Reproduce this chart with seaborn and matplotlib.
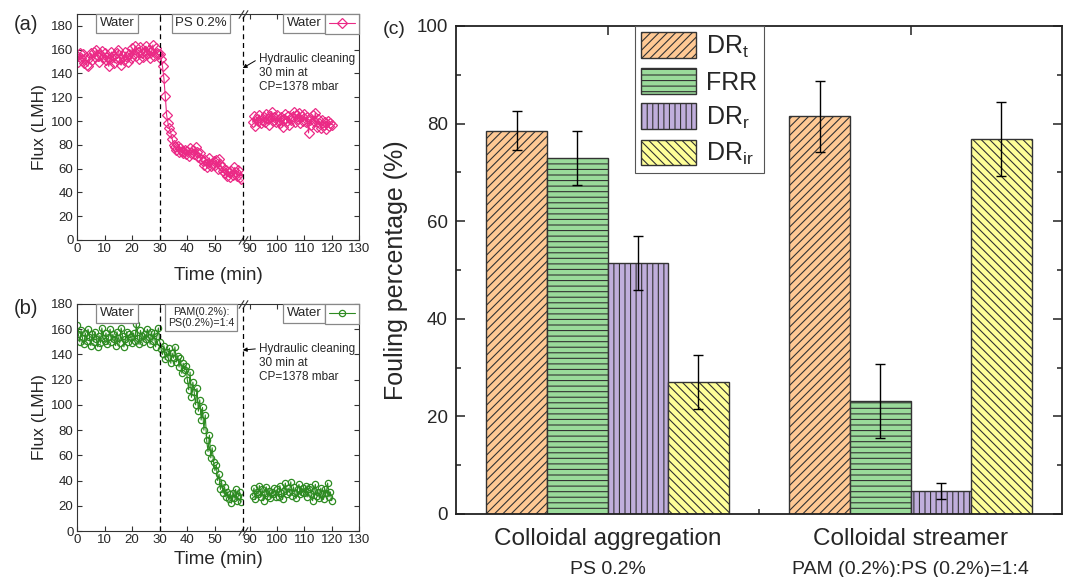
"""Flux decline curves (a, b) and fouling percentages (c)"""
import numpy as np
import pandas as pd
import matplotlib
matplotlib.use("Agg")
from matplotlib import pyplot as plt
from matplotlib import transforms
from matplotlib.lines import Line2D
from matplotlib.patches import Patch
import seaborn as sns


# ---------------
# Data
# ---------------
# sampling times (min): one reading every 0.5 min
time_fouling = np.arange(0, 60, 0.5)
time_recovery = np.arange(91, 120.5, 0.5)

# (a) PS 0.2 %
flux_ps = [155, 150, 157, 153, 156, 149, 152, 147, 146, 153, 157, 151, 158, 154, 160, 155, 150, 156, 159, 153,
           157, 151, 154, 146, 152, 158, 155, 149, 153, 157, 160, 152, 147, 155, 151, 158, 154, 150, 156, 153,
           161, 156, 163, 155, 158, 152, 162, 157, 154, 159, 163, 156, 160, 153, 158, 164, 155, 161, 157, 156,
           156, 152, 146, 136, 121, 105, 98, 94, 90, 85, 80, 78, 76, 79, 74, 77, 75, 73, 76, 72,
           75, 71, 77, 73, 76, 72, 78, 74, 70, 73, 68, 66, 63, 67, 61, 65, 69, 62, 64, 66,
           63, 67, 60, 68, 64, 61, 58, 56, 59, 54, 57, 53, 58, 55, 61, 57, 54, 59, 53, 51]
flux_ps_recovery = [99, 104, 96, 102, 100, 105, 98, 101, 103, 99, 106, 102, 97, 104, 108, 100, 103, 99,
                    105, 101, 98, 103, 95, 102, 106, 100, 104, 97, 101, 103, 108, 99, 105, 102, 107, 98, 104, 100,
                    106, 99, 103, 90, 101, 97, 105, 100, 107, 95, 102, 98, 94, 101, 97, 99, 93, 100, 96, 98, 97]

# (b) PAM(0.2%):PS(0.2%)=1:4
flux_pam = [163, 156, 150, 159, 153, 148, 157, 151, 160, 154, 147, 156, 150, 158, 152, 146, 155, 149, 161, 153,
            151, 157, 148, 154, 160, 150, 156, 152, 147, 158, 153, 149, 161, 155, 146, 152, 158, 150, 156, 154,
            149, 157, 151, 164, 153, 148, 159, 155, 150, 156, 152, 160, 154, 148, 158, 151, 157, 146, 155, 161,
            150, 144, 140, 147, 136, 142, 138, 145, 133, 141, 137, 146, 134, 139, 130, 137, 125, 133, 128, 131,
            120, 112, 126, 106, 118, 110, 100, 113, 95, 104, 88, 98, 80, 92, 72, 63, 76, 58, 66, 55,
            48, 52, 40, 45, 33, 38, 30, 35, 27, 31, 25, 29, 22, 30, 26, 33, 24, 28, 31, 23]
flux_pam_recovery = [28, 34, 25, 31, 29, 36, 27, 33, 24, 30, 35, 28, 32, 26, 31, 29, 34, 27,
                     33, 27, 36, 30, 25, 32, 38, 29, 34, 31, 39, 28, 35, 30, 26, 33, 37, 29, 31, 34,
                     30, 36, 27, 33, 35, 29, 24, 32, 37, 28, 31, 26, 34, 29, 25, 33, 30, 38, 27, 31, 24]

# (c) fouling percentages
groups = ["Colloidal aggregation", "Colloidal streamer"]
group_notes = ["PS 0.2%", "PAM (0.2%):PS (0.2%)=1:4"]
metrics = ["DRt", "FRR", "DRr", "DRir"]
metric_labels = [r"DR$_\mathregular{t}$", "FRR", r"DR$_\mathregular{r}$", r"DR$_\mathregular{ir}$"]
aggregation_pct = [78.5, 73.0, 51.5, 27.0]
aggregation_err = [4.0, 5.5, 5.5, 5.5]
streamer_pct = [81.5, 23.1, 4.7, 76.8]
streamer_err = [7.3, 7.6, 1.6, 7.6]

bar_colors = ["#FFC994", "#9ADA9A", "#C0AEDC", "#FFFF99"]
bar_hatches = ["////", "---", "|||", "\\\\\\\\"]

W, H = 1065, 577


def box(left, top, right, bottom):
    """pixel box -> figure fraction rect"""
    return [left / W, 1 - bottom / H, (right - left) / W, (bottom - top) / H]


sns.set_style("ticks")
plt.rcParams["font.family"] = ["Liberation Sans", "DejaVu Sans"]
plt.rcParams["hatch.color"] = "#333333"
plt.rcParams["hatch.linewidth"] = 0.8

fig = plt.figure(figsize=(W / 100, H / 100), dpi=100)


# ---------------
# Flux panels
# ---------------
def flux_panel(top, bottom, flux, flux_rec, ymax, color, marker, ms, feed_text, feed_size, note_y, arrow_y):
    ax_l = fig.add_axes(box(77, top, 242.5, bottom))
    ax_r = fig.add_axes(box(242.5, top, 359, bottom))
    ax_r.set_facecolor("none")
    style = dict(color=color, lw=0.8, marker=marker, ms=ms, mfc="none", mec=color, mew=0.9)
    sns.lineplot(x=time_fouling, y=flux, ax=ax_l, **style)
    sns.lineplot(x=time_recovery, y=flux_rec, ax=ax_r, **style)

    ax_l.set_xlim(0, 60)
    ax_r.set_xlim(87.3, 130)
    ax_l.set_xticks(range(0, 60, 10))
    ax_r.set_xticks(range(90, 131, 10))
    for ax in (ax_l, ax_r):
        ax.set_ylim(0, ymax)
        ax.set_yticks(range(0, 181, 20))
        ax.tick_params(direction="in", top=True, labelsize=9.5, length=3.5, width=0.8, pad=2.5,
                       color="#333333")
        for sp in ax.spines.values():
            sp.set_linewidth(0.8)
            sp.set_color("#333333")
    ax_l.tick_params(right=False)
    ax_r.tick_params(left=False, right=True, labelleft=False)
    ax_l.spines["right"].set_visible(False)
    ax_r.spines["left"].set_visible(False)
    ax_l.set_ylabel("Flux (LMH)", fontsize=12.5, labelpad=3)

    ax_l.axvline(30, color="black", ls=(0, (4, 3)), lw=0.9)
    ax_l.axvline(60, color="black", ls=(0, (4, 3)), lw=0.9, clip_on=False, zorder=5)

    # break marks
    for y in (0, 1):
        for dx in (-2, 2):
            tr = transforms.offset_copy(ax_l.transAxes, fig=fig, x=dx, y=0, units="dots")
            ax_l.plot([1], [y], transform=tr, marker=[(-1, -1.6), (1, 1.6)], ms=6, mew=0.8,
                      color="#333333", ls="none", clip_on=False)

    boxprops = dict(boxstyle="square,pad=0.25", fc="white", ec="#888888", lw=0.9)
    for ax, x, txt, fs in ((ax_l, 14.5, "Water", 9.5), (ax_l, 45, feed_text, feed_size),
                           (ax_r, 109.8, "Water", 9.5)):
        ax.annotate(txt, xy=(x, 1), xycoords=("data", "axes fraction"), xytext=(0, -0.25 * fs),
                    textcoords="offset points", ha="center", va="top", fontsize=fs, bbox=boxprops,
                    linespacing=1.15)

    ax_r.annotate("Hydraulic cleaning\n30 min at\nCP=1378 mbar", xy=(87.4, arrow_y), xytext=(93.2, note_y),
                  ha="left", va="top", fontsize=8.5,
                  arrowprops=dict(arrowstyle="-|>", color="black", lw=0.7, mutation_scale=6,
                                  shrinkA=0, shrinkB=0, relpos=(0, 0.86)))

    handle = Line2D([], [], **style)
    leg = ax_r.legend([handle], [""], loc="upper right", borderaxespad=0, fontsize=9.5,
                      handlelength=2.0, handletextpad=0, borderpad=0.3, fancybox=False, framealpha=1)
    leg.get_frame().set_edgecolor("#888888")
    leg.get_frame().set_linewidth(0.9)
    return ax_l, ax_r


flux_panel(14, 240, flux_ps, flux_ps_recovery, 190, "#EB2A86", "D", 5.5,
           "PS 0.2%", 9.5, 157, 144.5)
flux_panel(304, 531, flux_pam, flux_pam_recovery, 180, "#2E8B22", "o", 4.5,
           "PAM(0.2%):\nPS(0.2%)=1:4", 7.7, 149, 143.5)

fig.text(218 / W, 1 - 275 / H, "Time (min)", ha="center", va="center", fontsize=13.5)
fig.text(218 / W, 1 - 559 / H, "Time (min)", ha="center", va="center", fontsize=13.5)
fig.text(26 / W, 1 - 25 / H, "(a)", ha="center", va="center", fontsize=14.5)
fig.text(26 / W, 1 - 308 / H, "(b)", ha="center", va="center", fontsize=14.5)
fig.text(394 / W, 1 - 29 / H, "(c)", ha="center", va="center", fontsize=14)


# ---------------
# Fouling bars
# ---------------
df = pd.DataFrame({
    "group": np.repeat(groups, len(metrics)),
    "metric": metrics * len(groups),
    "pct": aggregation_pct + streamer_pct,
    "err": aggregation_err + streamer_err,
})

ax_c = fig.add_axes(box(456, 26, 1062, 514))
sns.barplot(data=df, x="group", y="pct", hue="metric", order=groups, hue_order=metrics,
            palette=dict(zip(metrics, bar_colors)), saturation=1, errorbar=None, legend=False,
            edgecolor="#333333", linewidth=1, ax=ax_c)

for metric, hatch, container in zip(metrics, bar_hatches, ax_c.containers):
    sub = df[df.metric == metric].set_index("group")
    xs, ys, es = [], [], []
    for bar in container:
        bar.set_hatch(hatch)
        cx = bar.get_x() + bar.get_width() / 2
        xs.append(cx)
        ys.append(bar.get_height())
        es.append(sub.loc[groups[int(round(cx))], "err"])
    ax_c.errorbar(xs, ys, yerr=es, fmt="none", ecolor="black", elinewidth=1, capsize=3.5, capthick=1)

ax_c.set_xlim(-0.5, 1.5)
ax_c.set_ylim(0, 100)
ax_c.set_yticks(range(0, 101, 20))
ax_c.set_yticks(range(10, 100, 20), minor=True)
ax_c.set_xticks([0, 1], labels=groups)
ax_c.set_xticks([0.5], minor=True)
ax_c.tick_params(axis="both", which="both", direction="in", top=True, right=True, color="#222222")
ax_c.tick_params(which="major", length=6.5, width=1.1)
ax_c.tick_params(which="minor", length=3.5, width=1.1)
ax_c.tick_params(axis="y", labelsize=13.5, pad=6)
ax_c.tick_params(axis="x", labelsize=17.5, pad=10)
for sp in ax_c.spines.values():
    sp.set_linewidth(1.3)
    sp.set_color("#222222")
ax_c.set_xlabel("")
ax_c.set_ylabel("Fouling percentage (%)", fontsize=18, labelpad=6)

for i, note in enumerate(group_notes):
    ax_c.annotate(note, xy=(i, 0), xycoords=("data", "axes fraction"), xytext=(0, -40),
                  textcoords="offset points", ha="center", va="center", fontsize=14)

handles = [Patch(facecolor=c, edgecolor="#333333", hatch=h, lw=1) for c, h in zip(bar_colors, bar_hatches)]
leg = ax_c.legend(handles, metric_labels, loc="upper left", bbox_to_anchor=(0.295, 1.0), fontsize=18,
                  fancybox=False, framealpha=1, borderaxespad=0, borderpad=0.25, handlelength=2.2,
                  handleheight=1.2, labelspacing=0.35, handletextpad=0.4)
leg.get_frame().set_edgecolor("#555555")
leg.get_frame().set_linewidth(0.8)

fig.savefig("out.png", dpi=100)
